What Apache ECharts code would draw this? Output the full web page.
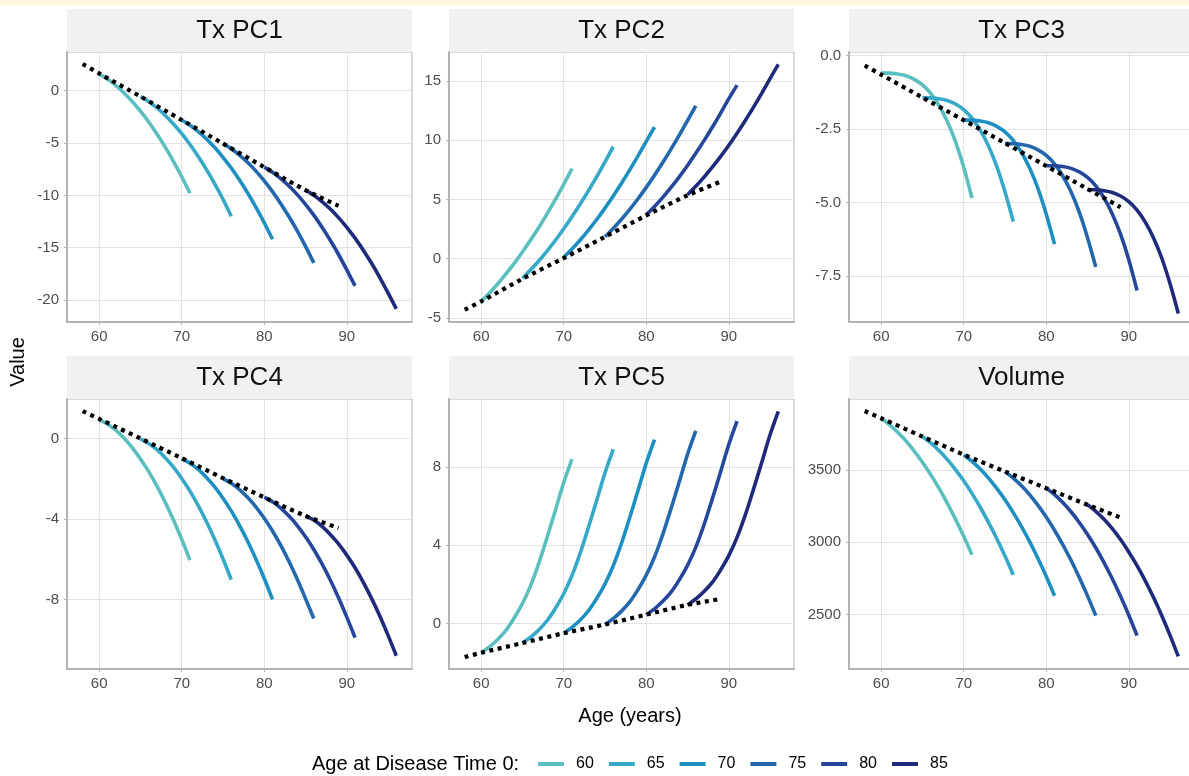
<!DOCTYPE html>
<html>
<head>
<meta charset="utf-8">
<script src="https://cdn.jsdelivr.net/npm/echarts@6/dist/echarts.min.js"></script>
<style>
  html, body { margin: 0; padding: 0; background: #fff; }
  #chart { width: 1189px; height: 776px; }
</style>
</head>
<body>
<div id="chart"></div>
<script>
// groups: age at disease time 0
var startAges = ['60', '65', '70', '75', '80', '85'];
var lineColors = ['#5bbfbf', '#35a9c7', '#1e8fc1', '#2367ac', '#25469b', '#1f2a7b'];

var curveAges = [
  [60, 61, 62, 63, 64, 65, 66, 67, 68, 69, 70, 71],
  [65, 66, 67, 68, 69, 70, 71, 72, 73, 74, 75, 76],
  [70, 71, 72, 73, 74, 75, 76, 77, 78, 79, 80, 81],
  [75, 76, 77, 78, 79, 80, 81, 82, 83, 84, 85, 86],
  [80, 81, 82, 83, 84, 85, 86, 87, 88, 89, 90, 91],
  [85, 86, 87, 88, 89, 90, 91, 92, 93, 94, 95, 96]
];
var trendAges = [58, 60, 65, 70, 75, 80, 85, 89];

var panelTitles = ['Tx PC1', 'Tx PC2', 'Tx PC3', 'Tx PC4', 'Tx PC5', 'Volume'];

// Tx PC1
var pc1Curves = [
  [1.6, 1.11, 0.5, -0.21, -1.03, -1.96, -2.99, -4.14, -5.39, -6.75, -8.22, -9.8],
  [-0.55, -1.04, -1.65, -2.36, -3.18, -4.11, -5.14, -6.29, -7.54, -8.9, -10.37, -12.0],
  [-2.8, -3.29, -3.9, -4.61, -5.43, -6.36, -7.39, -8.54, -9.79, -11.15, -12.62, -14.2],
  [-5.05, -5.54, -6.15, -6.86, -7.68, -8.61, -9.64, -10.79, -12.04, -13.4, -14.87, -16.45],
  [-7.3, -7.79, -8.4, -9.11, -9.93, -10.86, -11.89, -13.04, -14.29, -15.65, -17.12, -18.65],
  [-9.5, -9.99, -10.6, -11.31, -12.13, -13.06, -14.09, -15.24, -16.49, -17.85, -19.32, -20.85]
];
var pc1Trend = [2.55, 1.65, -0.55, -2.8, -5.05, -7.3, -9.5, -11.0];

// Tx PC2
var pc2Curves = [
  [-3.6, -2.89, -2.12, -1.28, -0.39, 0.57, 1.59, 2.66, 3.81, 5.01, 6.27, 7.6],
  [-1.65, -0.94, -0.17, 0.67, 1.56, 2.52, 3.54, 4.61, 5.74, 6.92, 8.17, 9.45],
  [0.1, 0.81, 1.58, 2.42, 3.31, 4.27, 5.29, 6.36, 7.49, 8.67, 9.9, 11.1],
  [1.85, 2.56, 3.33, 4.17, 5.06, 6.02, 7.04, 8.11, 9.24, 10.42, 11.66, 12.9],
  [3.7, 4.41, 5.18, 6.02, 6.91, 7.87, 8.89, 9.96, 11.09, 12.27, 13.5, 14.65],
  [5.4, 6.11, 6.88, 7.72, 8.61, 9.57, 10.59, 11.66, 12.79, 13.97, 15.2, 16.4]
];
var pc2Trend = [-4.3, -3.6, -1.7, 0.05, 1.85, 3.65, 5.35, 6.5];

// Tx PC3
var pc3Curves = [
  [-0.6, -0.6, -0.63, -0.69, -0.81, -1.0, -1.29, -1.7, -2.24, -2.93, -3.8, -4.85],
  [-1.44, -1.44, -1.47, -1.53, -1.65, -1.84, -2.13, -2.54, -3.08, -3.77, -4.64, -5.65],
  [-2.2, -2.2, -2.23, -2.29, -2.41, -2.6, -2.89, -3.3, -3.84, -4.53, -5.4, -6.42],
  [-3.0, -3.0, -3.03, -3.09, -3.21, -3.4, -3.69, -4.1, -4.64, -5.33, -6.2, -7.2],
  [-3.75, -3.75, -3.78, -3.84, -3.96, -4.15, -4.44, -4.85, -5.39, -6.08, -6.95, -8.0],
  [-4.57, -4.57, -4.6, -4.66, -4.78, -4.97, -5.26, -5.67, -6.21, -6.9, -7.77, -8.78]
];
var pc3Trend = [-0.34, -0.65, -1.43, -2.2, -2.98, -3.76, -4.54, -5.16];

// Tx PC4
var pc4Curves = [
  [0.95, 0.72, 0.41, 0.02, -0.46, -1.02, -1.65, -2.37, -3.17, -4.05, -5.01, -6.05],
  [-0.02, -0.25, -0.56, -0.96, -1.43, -1.99, -2.62, -3.34, -4.14, -5.02, -5.98, -7.02],
  [-1.0, -1.23, -1.54, -1.94, -2.41, -2.97, -3.6, -4.32, -5.12, -6.0, -6.96, -8.0],
  [-2.0, -2.23, -2.54, -2.94, -3.41, -3.97, -4.6, -5.32, -6.12, -7.0, -7.96, -8.95],
  [-2.92, -3.15, -3.46, -3.86, -4.33, -4.89, -5.52, -6.24, -7.04, -7.92, -8.88, -9.9],
  [-3.83, -4.06, -4.37, -4.77, -5.24, -5.8, -6.43, -7.15, -7.95, -8.83, -9.79, -10.8]
];
var pc4Trend = [1.36, 0.97, 0.0, -0.98, -1.97, -2.93, -3.85, -4.45];

// Tx PC5
var pc5Curves = [
  [-1.5, -1.2, -0.82, -0.35, 0.28, 1.02, 1.95, 3.1, 4.42, 5.8, 7.2, 8.4],
  [-1.0, -0.7, -0.32, 0.15, 0.78, 1.52, 2.45, 3.6, 4.92, 6.3, 7.7, 8.9],
  [-0.5, -0.2, 0.18, 0.65, 1.28, 2.02, 2.95, 4.1, 5.42, 6.8, 8.2, 9.4],
  [-0.05, 0.25, 0.63, 1.1, 1.73, 2.47, 3.4, 4.55, 5.87, 7.25, 8.65, 9.85],
  [0.45, 0.75, 1.13, 1.6, 2.23, 2.97, 3.9, 5.05, 6.37, 7.75, 9.15, 10.35],
  [0.95, 1.25, 1.63, 2.1, 2.73, 3.47, 4.4, 5.55, 6.87, 8.25, 9.65, 10.85]
];
var pc5Trend = [-1.72, -1.5, -1.0, -0.5, -0.05, 0.45, 0.95, 1.25];

// Volume
var volCurves = [
  [3857, 3813, 3760, 3700, 3630, 3553, 3467, 3373, 3270, 3159, 3040, 2912],
  [3730, 3686, 3633, 3572, 3502, 3424, 3337, 3241, 3137, 3025, 2904, 2774],
  [3603, 3559, 3505, 3443, 3372, 3293, 3204, 3107, 3001, 2886, 2762, 2629],
  [3488, 3443, 3390, 3327, 3254, 3173, 3082, 2983, 2874, 2755, 2628, 2491],
  [3373, 3328, 3274, 3210, 3136, 3053, 2961, 2858, 2746, 2625, 2494, 2353],
  [3258, 3213, 3158, 3093, 3018, 2932, 2837, 2732, 2616, 2491, 2355, 2209]
];
var volTrend = [3907, 3857, 3730, 3605, 3488, 3373, 3258, 3170];

var xTicks = [60, 70, 80, 90];
var yTicks = [
  [-20, -15, -10, -5, 0],
  [-5, 0, 5, 10, 15],
  [-7.5, -5, -2.5, 0],
  [-8, -4, 0],
  [0, 4, 8],
  [2500, 3000, 3500]
];
var yRanges = [[-22.1, 3.7], [-5.34, 17.44], [-9.07, 0.12], [-11.46, 1.96], [-2.33, 11.48], [2122, 3990]];

var allCurves = [pc1Curves, pc2Curves, pc3Curves, pc4Curves, pc5Curves, volCurves];
var allTrends = [pc1Trend, pc2Trend, pc3Trend, pc4Trend, pc5Trend, volTrend];

var FONT = '"Liberation Sans", Arial, Helvetica, sans-serif';
var panelLeft = [67, 449, 849];
var panelTop = [52, 399];
var panelW = 345, panelH = 270, stripH = 43;

var myChart = echarts.init(document.getElementById('chart'), null, { renderer: 'canvas' });

var grids = [], xAxes = [], yAxes = [], series = [];
var graphics = [
  { type: 'rect', shape: { x: 0, y: 0, width: 1189, height: 5 }, style: { fill: '#fef7dc' } }
];

for (var p = 0; p < 6; p++) {
  var gx = panelLeft[p % 3];
  var gy = panelTop[Math.floor(p / 3)];
  grids.push({
    left: gx, top: gy, width: panelW, height: panelH,
    outerBoundsMode: 'none',
    show: true, borderColor: '#b3b3b3', borderWidth: 1, backgroundColor: 'transparent'
  });
  xAxes.push({
    type: 'value', gridIndex: p, min: 56.1, max: 97.9,
    axisLine: { show: true, onZero: false, lineStyle: { color: '#b3b3b3', width: 2 } },
    axisTick: { show: true, length: 3, customValues: xTicks, lineStyle: { color: '#b3b3b3' } },
    axisLabel: { customValues: xTicks, color: '#4d4d4d', fontSize: 15, fontFamily: FONT, margin: 7 },
    splitLine: { show: true, lineStyle: { color: '#e2e2e2', width: 1 } }
  });
  yAxes.push({
    type: 'value', gridIndex: p, min: yRanges[p][0], max: yRanges[p][1],
    axisLine: { show: true, onZero: false, lineStyle: { color: '#b3b3b3', width: 2 } },
    axisTick: { show: true, length: 3, customValues: yTicks[p], lineStyle: { color: '#b3b3b3' } },
    axisLabel: {
      customValues: yTicks[p], color: '#4d4d4d', fontSize: 15, fontFamily: FONT, margin: 8,
      formatter: function (v) { return String(v); }
    },
    splitLine: { show: true, lineStyle: { color: '#e2e2e2', width: 1 } }
  });
  if (p === 2) {
    yAxes[p].axisLabel.formatter = function (v) { return Number(v).toFixed(1); };
  }
  // strip
  graphics.push({
    type: 'rect', shape: { x: gx, y: gy - stripH, width: panelW, height: stripH },
    style: { fill: '#f1f1f1' }
  });
  graphics.push({
    type: 'text', x: gx + panelW / 2, y: gy - stripH / 2,
    style: { text: panelTitles[p], fill: '#111', fontSize: 26, fontFamily: FONT, align: 'center', verticalAlign: 'middle' }
  });

  var curves = allCurves[p];
  for (var i = 0; i < curves.length; i++) {
    var pts = [];
    for (var k = 0; k < curves[i].length; k++) {
      pts.push([curveAges[i][k], curves[i][k]]);
    }
    series.push({
      type: 'line', name: startAges[i], xAxisIndex: p, yAxisIndex: p,
      data: pts, smooth: 0.3, showSymbol: false, symbol: 'none',
      lineStyle: { color: lineColors[i], width: 3.6 },
      itemStyle: { color: lineColors[i] },
      z: 2
    });
  }
  var tpts = [];
  for (var k = 0; k < trendAges.length; k++) {
    tpts.push([trendAges[k], allTrends[p][k]]);
  }
  series.push({
    type: 'line', name: 'trend', xAxisIndex: p, yAxisIndex: p,
    data: tpts, smooth: 0.3, showSymbol: false, symbol: 'none',
    lineStyle: { color: '#000', width: 4.2, type: [4, 4.5] },
    itemStyle: { color: '#000' },
    z: 3
  });
}

// axis titles and legend title
graphics.push({
  type: 'text', x: 630, y: 716,
  style: { text: 'Age (years)', fill: '#000', fontSize: 20, fontFamily: FONT, align: 'center', verticalAlign: 'middle' }
});
graphics.push({
  type: 'text', x: 18, y: 362, rotation: Math.PI / 2,
  style: { text: 'Value', fill: '#000', fontSize: 20, fontFamily: FONT, align: 'center', verticalAlign: 'middle' }
});
graphics.push({
  type: 'text', x: 312, y: 764,
  style: { text: 'Age at Disease Time 0:', fill: '#000', fontSize: 20, fontFamily: FONT, align: 'left', verticalAlign: 'middle' }
});

var option = {
  animation: false,
  backgroundColor: '#fff',
  grid: grids,
  xAxis: xAxes,
  yAxis: yAxes,
  legend: {
    data: startAges,
    left: 538, top: 756, padding: 0,
    icon: 'rect', itemWidth: 26, itemHeight: 4, itemGap: 15,
    selectedMode: false,
    textStyle: { fontSize: 16, color: '#000', fontFamily: FONT, padding: [0, 0, 0, 7] }
  },
  graphic: graphics,
  series: series
};
myChart.setOption(option);
</script>
</body>
</html>
